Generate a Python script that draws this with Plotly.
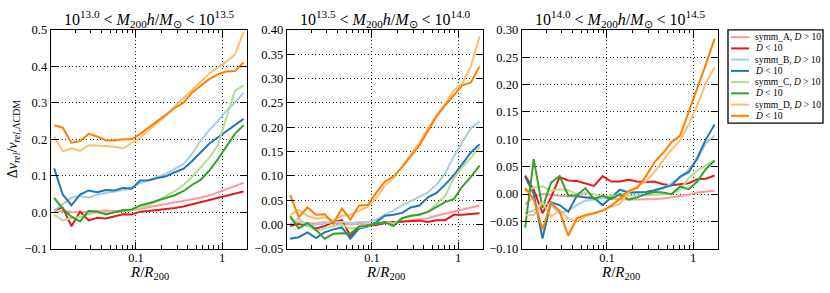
import math
import plotly.graph_objects as go

# ---------------- data ----------------
R = [0.0112, 0.0141, 0.0178, 0.0224, 0.0282, 0.0355, 0.0447, 0.0562, 0.0708, 0.0891,
     0.112, 0.141, 0.178, 0.224, 0.282, 0.355, 0.447, 0.562, 0.708, 0.891, 1.12, 1.41, 1.78]

series_names = ["symm_A, <i>D</i> &gt; 10", "<i>D</i> &lt; 10",
                "symm_B, <i>D</i> &gt; 10", "<i>D</i> &lt; 10",
                "symm_C, <i>D</i> &gt; 10", "<i>D</i> &lt; 10",
                "symm_D, <i>D</i> &gt; 10", "<i>D</i> &lt; 10"]
series_colors = ["#fb9a99", "#e31a1c", "#a6cee3", "#1f78b4",
                 "#b2df8a", "#33a02c", "#fdbf6f", "#ff7f00"]

panel_titles = [
    "10<sup>13.0</sup> &lt; <i>M</i><sub>200</sub><i>h</i>/<i>M</i><sub>⊙</sub> &lt; 10<sup>13.5</sup>",
    "10<sup>13.5</sup> &lt; <i>M</i><sub>200</sub><i>h</i>/<i>M</i><sub>⊙</sub> &lt; 10<sup>14.0</sup>",
    "10<sup>14.0</sup> &lt; <i>M</i><sub>200</sub><i>h</i>/<i>M</i><sub>⊙</sub> &lt; 10<sup>14.5</sup>",
]

# panel 1: 10^13.0 - 10^13.5
p1_A_far = [0.000, 0.004, 0.001, 0.000, 0.002, 0.004, 0.005, 0.004, 0.004, 0.006, 0.010, 0.014,
            0.018, 0.022, 0.026, 0.030, 0.035, 0.040, 0.046, 0.054, 0.062, 0.072, 0.081]
p1_A_near = [0.006, 0.013, -0.038, 0.002, -0.022, -0.015, -0.017, -0.010, -0.005, -0.006, 0.002, 0.004,
             0.006, 0.010, 0.012, 0.016, 0.022, 0.028, 0.033, 0.038, 0.045, 0.051, 0.057]
p1_B_far = [0.005, 0.023, 0.040, 0.045, 0.040, 0.049, 0.053, 0.058, 0.061, 0.068, 0.080, 0.088,
            0.097, 0.106, 0.119, 0.132, 0.160, 0.195, 0.225, 0.250, 0.278, 0.300, 0.328]
p1_B_near = [0.121, 0.049, 0.019, 0.049, 0.060, 0.055, 0.061, 0.060, 0.067, 0.065, 0.087, 0.088,
             0.094, 0.099, 0.110, 0.119, 0.140, 0.165, 0.188, 0.205, 0.222, 0.240, 0.256]
p1_C_far = [-0.007, -0.022, -0.016, -0.012, -0.005, 0.000, -0.002, 0.002, 0.004, 0.006, 0.012, 0.019,
            0.032, 0.045, 0.058, 0.075, 0.097, 0.123, 0.149, 0.184, 0.260, 0.333, 0.348]
p1_C_near = [0.040, 0.010, -0.012, -0.025, 0.004, 0.002, -0.006, 0.000, 0.006, 0.008, 0.019, 0.025,
             0.032, 0.040, 0.047, 0.058, 0.075, 0.089, 0.114, 0.145, 0.180, 0.215, 0.239]
p1_D_far = [0.208, 0.167, 0.175, 0.169, 0.184, 0.184, 0.182, 0.180, 0.175, 0.190, 0.205, 0.225,
            0.245, 0.265, 0.290, 0.312, 0.336, 0.358, 0.380, 0.397, 0.413, 0.432, 0.495]
p1_D_near = [0.239, 0.232, 0.191, 0.195, 0.215, 0.208, 0.197, 0.197, 0.200, 0.200, 0.215, 0.232,
             0.250, 0.268, 0.286, 0.300, 0.328, 0.346, 0.365, 0.378, 0.386, 0.387, 0.411]

# panel 2: 10^13.5 - 10^14.0
p2_A_far = [0.000, 0.005, 0.003, 0.002, 0.005, 0.002, 0.003, 0.000, 0.002, 0.000, 0.002, 0.004,
            0.004, 0.006, 0.008, 0.010, 0.013, 0.018, 0.022, 0.026, 0.030, 0.035, 0.039]
p2_A_near = [-0.003, 0.001, -0.002, -0.008, -0.003, 0.005, 0.009, -0.023, -0.008, -0.002, -0.001, 0.003,
             0.005, 0.006, 0.006, 0.008, 0.005, 0.009, 0.009, 0.020, 0.020, 0.021, 0.023]
p2_B_far = [0.000, 0.013, -0.003, 0.000, 0.003, 0.005, 0.005, 0.003, 0.005, 0.005, 0.010, 0.020,
            0.030, 0.039, 0.048, 0.057, 0.066, 0.082, 0.105, 0.140, 0.170, 0.198, 0.212]
p2_B_near = [-0.029, -0.026, -0.016, -0.028, -0.016, -0.010, -0.006, -0.029, -0.008, -0.004, 0.005, 0.018,
             0.020, 0.024, 0.035, 0.039, 0.056, 0.065, 0.082, 0.101, 0.124, 0.148, 0.165]
p2_C_far = [0.011, 0.005, 0.000, -0.013, -0.008, -0.003, 0.000, -0.008, -0.006, -0.003, 0.002, 0.005,
            0.002, 0.013, 0.017, 0.022, 0.026, 0.042, 0.059, 0.095, 0.118, 0.137, 0.160]
p2_C_near = [0.017, -0.008, 0.003, -0.011, -0.029, -0.019, -0.018, -0.019, -0.004, -0.003, 0.002, 0.005,
             -0.003, 0.013, 0.018, 0.020, 0.026, 0.036, 0.046, 0.052, 0.078, 0.098, 0.121]
p2_D_far = [0.020, 0.030, 0.018, 0.012, 0.015, 0.008, 0.018, 0.020, 0.028, 0.036, 0.055, 0.080,
            0.096, 0.120, 0.145, 0.168, 0.198, 0.225, 0.248, 0.275, 0.290, 0.325, 0.387]
p2_D_near = [0.061, 0.015, 0.035, 0.020, 0.021, 0.002, 0.033, 0.010, 0.039, 0.040, 0.065, 0.088,
             0.099, 0.118, 0.140, 0.162, 0.192, 0.222, 0.245, 0.265, 0.286, 0.292, 0.325]

# panel 3: 10^14.0 - 10^14.5
p3_A_far = [-0.019, -0.005, 0.000, -0.002, -0.003, -0.004, -0.005, -0.006, -0.007, -0.008, -0.009, -0.009,
            -0.010, -0.010, -0.010, -0.009, -0.008, -0.006, -0.004, -0.001, 0.003, 0.005, 0.006]
p3_A_near = [0.034, 0.008, -0.035, -0.006, 0.031, 0.025, 0.024, 0.020, 0.015, 0.033, 0.023, 0.023,
             0.026, 0.023, 0.022, 0.023, 0.018, 0.016, 0.018, 0.020, 0.027, 0.028, 0.034]
p3_B_far = [-0.035, -0.030, -0.015, -0.020, -0.035, -0.030, -0.020, -0.012, -0.010, -0.008, -0.005, 0.000,
            0.002, 0.003, 0.003, 0.005, 0.010, 0.020, 0.030, 0.045, 0.063, 0.093, 0.107]
p3_B_near = [0.032, 0.000, -0.081, -0.015, -0.020, -0.032, -0.003, -0.006, -0.007, -0.020, -0.006, 0.008,
             0.003, 0.004, 0.004, 0.007, 0.012, 0.016, 0.032, 0.040, 0.066, 0.100, 0.127]
p3_C_far = [0.005, 0.012, 0.014, 0.006, 0.009, 0.007, 0.000, 0.002, 0.000, -0.005, -0.002, -0.004,
            -0.003, -0.003, -0.002, -0.001, 0.000, 0.000, 0.008, 0.029, 0.043, 0.053, 0.062]
p3_C_near = [-0.061, 0.064, -0.025, 0.021, 0.033, -0.003, -0.002, 0.011, -0.009, -0.003, -0.009, 0.000,
             -0.010, -0.006, 0.000, 0.004, 0.003, 0.000, 0.014, 0.009, 0.023, 0.046, 0.061]
p3_D_far = [-0.038, -0.038, -0.015, -0.041, -0.030, -0.044, -0.050, -0.041, -0.035, -0.030, -0.023, -0.018,
            0.003, 0.014, 0.023, 0.040, 0.061, 0.081, 0.098, 0.127, 0.162, 0.203, 0.232]
p3_D_near = [0.011, -0.009, -0.065, -0.015, -0.032, -0.076, -0.044, -0.038, -0.035, -0.030, -0.021, -0.009,
             0.006, 0.011, 0.032, 0.058, 0.075, 0.095, 0.107, 0.150, 0.191, 0.237, 0.284]

panels = [
    [p1_A_far, p1_A_near, p1_B_far, p1_B_near, p1_C_far, p1_C_near, p1_D_far, p1_D_near],
    [p2_A_far, p2_A_near, p2_B_far, p2_B_near, p2_C_far, p2_C_near, p2_D_far, p2_D_near],
    [p3_A_far, p3_A_near, p3_B_far, p3_B_near, p3_C_far, p3_C_near, p3_D_far, p3_D_near],
]

y_ranges = [[-0.1, 0.5], [-0.05, 0.40], [-0.10, 0.30]]
y_ticks = [
    [-0.1, 0.0, 0.1, 0.2, 0.3, 0.4, 0.5],
    [-0.05, 0.0, 0.05, 0.10, 0.15, 0.20, 0.25, 0.30, 0.35, 0.40],
    [-0.10, -0.05, 0.0, 0.05, 0.10, 0.15, 0.20, 0.25, 0.30],
]
y_formats = [".1f", ".2f", ".2f"]
x_ticks = [0.1, 1]
x_ticklabels = ["0.1", "1"]
x_minor_ticks = [0.02, 0.03, 0.04, 0.05, 0.06, 0.07, 0.08, 0.09,
                 0.2, 0.3, 0.4, 0.5, 0.6, 0.7, 0.8, 0.9]
x_range = [0.0103, 1.95]

# ---------------- layout geometry ----------------
W, H = 830, 293
panel_px = [(51, 247), (287, 483), (522, 718)]
top_px, bot_px = 24, 254
FONT = "Liberation Serif"
GRID = "#222222"
GRIDDASH = "1px,2.5px"

fig = go.Figure()
layout = {}
for p in range(3):
    ax = "" if p == 0 else str(p + 1)
    for k, (vals, name, col) in enumerate(zip(panels[p], series_names, series_colors)):
        fig.add_trace(go.Scatter(
            x=R, y=vals, mode="lines", name=name,
            line=dict(color=col, width=2),
            showlegend=False,
            xaxis="x" + ax, yaxis="y" + ax,
        ))
    x0, x1 = panel_px[p]
    layout["xaxis" + ax] = dict(
        type="log", range=[math.log10(x_range[0]), math.log10(x_range[1])],
        domain=[x0 / W, x1 / W], anchor="y" + ax,
        tickvals=x_ticks, ticktext=x_ticklabels,
        ticks="inside", ticklen=7, tickcolor="black", tickwidth=1,
        minor=dict(tickvals=x_minor_ticks, ticks="inside", ticklen=3.5,
                   tickcolor="black", tickwidth=1, showgrid=False),
        showline=True, linecolor="black", linewidth=1.3, mirror="allticks",
        showgrid=True, gridcolor=GRID, griddash=GRIDDASH, gridwidth=1,
        zeroline=False, tickfont=dict(family=FONT, size=12.5, color="black"),
        ticklabelstandoff=-3,
    )
    layout["yaxis" + ax] = dict(
        range=y_ranges[p], domain=[(H - bot_px) / H, (H - top_px) / H], anchor="x" + ax,
        tickvals=y_ticks[p], tickformat=y_formats[p],
        ticks="inside", ticklen=7, tickcolor="black", tickwidth=1,
        showline=True, linecolor="black", linewidth=1.3, mirror="allticks",
        showgrid=True, gridcolor=GRID, griddash=GRIDDASH, gridwidth=1,
        zeroline=False, tickfont=dict(family=FONT, size=12.5, color="black"),
    )

annotations = []
shapes = []
for p in range(3):
    x0, x1 = panel_px[p]
    annotations.append(dict(
        text=panel_titles[p], x=(x0 + x1) / 2 / W, y=1 - 13 / H, xref="paper", yref="paper",
        showarrow=False, font=dict(family=FONT, size=16, color="black"),
        xanchor="center", yanchor="middle"))
    annotations.append(dict(
        text="<i>R</i>/<i>R</i><sub>200</sub>", x=(x0 + x1) / 2 / W, y=1 - 279 / H,
        xref="paper", yref="paper", showarrow=False,
        font=dict(family=FONT, size=15, color="black"), xanchor="center", yanchor="middle"))
annotations.append(dict(
    text="Δ<i>v</i><sub><i>rel</i></sub>/<i>v</i><sub><i>rel</i>,ΛCDM</sub>",
    x=13 / W, y=1 - ((top_px + bot_px) / 2) / H, xref="paper", yref="paper",
    showarrow=False, textangle=-90, font=dict(family=FONT, size=14, color="black"),
    xanchor="center", yanchor="middle"))

# ---------------- legend (drawn manually for compact matplotlib look) ----------------
leg_x0, leg_x1, leg_y0, leg_y1 = 728, 823, 24, 122
shapes.append(dict(type="rect", xref="paper", yref="paper",
                   x0=leg_x0 / W, x1=leg_x1 / W, y0=1 - leg_y1 / H, y1=1 - leg_y0 / H,
                   line=dict(color="black", width=1.3), fillcolor="rgba(0,0,0,0)", layer="below"))
row0, row_step = 31.7, 11.8
for k, (name, col) in enumerate(zip(series_names, series_colors)):
    yy = 1 - (row0 + k * row_step) / H
    shapes.append(dict(type="line", xref="paper", yref="paper",
                       x0=731 / W, x1=749 / W, y0=yy, y1=yy,
                       line=dict(color=col, width=2)))
    annotations.append(dict(
        text=name, x=753 / W, y=yy, xref="paper", yref="paper", showarrow=False,
        xanchor="left", yanchor="middle", font=dict(family=FONT, size=9.5, color="black")))

fig.update_layout(
    **layout,
    width=W, height=H,
    margin=dict(l=0, r=0, t=0, b=0),
    paper_bgcolor="white", plot_bgcolor="white",
    annotations=annotations, shapes=shapes,
    showlegend=False,
)

fig.write_html(
    "out.html",
    config={"displayModeBar": False, "staticPlot": True},
    post_script="document.body.style.margin='0';document.body.style.overflow='hidden';",
)
